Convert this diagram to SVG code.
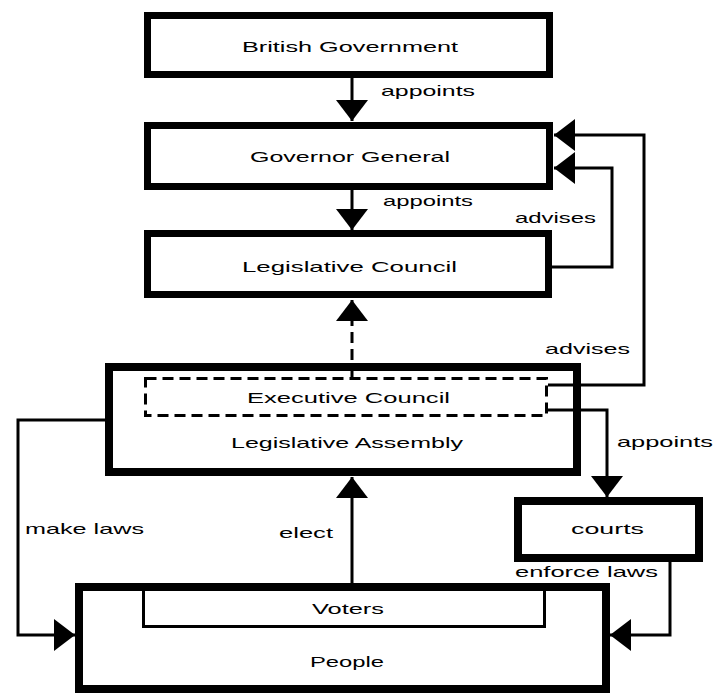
<svg xmlns="http://www.w3.org/2000/svg" width="715" height="695" viewBox="0 0 715 695">
<defs>
<marker id="ah" markerUnits="userSpaceOnUse" markerWidth="22" markerHeight="34" viewBox="0 0 22 34" refX="21" refY="17" orient="auto">
<polygon points="0,1 21,17 0,33" fill="#000"/>
</marker>
<style>
.box{fill:#fff;stroke:#000;stroke-width:7}
.thin{fill:none;stroke:#000;stroke-width:3}
.dash{fill:none;stroke:#000;stroke-width:3;stroke-dasharray:11 6}
.con{fill:none;stroke:#000;stroke-width:3;marker-end:url(#ah)}
text{font-family:"Liberation Sans",Arial,sans-serif;font-size:15px;fill:#000}
.lbl{text-anchor:start}
</style>
</defs>
<rect width="715" height="695" fill="#fff"/>
<g id="british-government">
<rect class="box" x="147.5" y="15.5" width="402" height="59"/>
<text class="lbl" x="242" y="52" textLength="216" lengthAdjust="spacingAndGlyphs">British Government</text>
</g>
<g id="governor-general">
<rect class="box" x="147.5" y="125.5" width="402" height="61"/>
<text class="lbl" x="250" y="162" textLength="200" lengthAdjust="spacingAndGlyphs">Governor General</text>
</g>
<g id="legislative-council">
<rect class="box" x="147.5" y="233.5" width="401" height="61"/>
<text class="lbl" x="242" y="272" textLength="215" lengthAdjust="spacingAndGlyphs">Legislative Council</text>
</g>
<g id="legislative-assembly">
<rect class="box" x="109" y="367" width="468" height="105" style="stroke-width:8"/>
<text class="lbl" x="231" y="448" textLength="232" lengthAdjust="spacingAndGlyphs">Legislative Assembly</text>
</g>
<g id="executive-council">
<rect class="dash" x="145.5" y="378.5" width="401" height="37"/>
<text class="lbl" x="247" y="403" textLength="203" lengthAdjust="spacingAndGlyphs">Executive Council</text>
</g>
<g id="courts">
<rect class="box" x="518" y="501" width="181" height="57" style="stroke-width:8"/>
<text class="lbl" x="571" y="534" textLength="73" lengthAdjust="spacingAndGlyphs">courts</text>
</g>
<g id="people">
<rect class="box" x="79" y="587" width="527" height="102" style="stroke-width:8"/>
<text class="lbl" x="310" y="667" textLength="74" lengthAdjust="spacingAndGlyphs">People</text>
</g>
<g id="voters">
<path class="thin" d="M143.5 591 V626.5 H544.5 V591"/>
<text class="lbl" x="312" y="614" textLength="72" lengthAdjust="spacingAndGlyphs">Voters</text>
</g>
<g id="connectors">
<path class="con" d="M352 78 V121"/>
<path class="con" d="M352 190 V230"/>
<path class="dash" d="M352 377 V318"/>
<path class="con" d="M352 318 V300"/>
<path class="con" d="M548 385 H644 V135 H554"/>
<path class="con" d="M552 267 H612 V168 H554"/>
<path class="con" d="M548 410 H607 V497"/>
<path class="con" d="M352 583 V477"/>
<path class="con" d="M105 420 H18 V635 H75"/>
<path class="con" d="M670 562 V635 H610"/>
<text class="lbl" x="381" y="96" textLength="94" lengthAdjust="spacingAndGlyphs">appoints</text>
<text class="lbl" x="383" y="206" textLength="90" lengthAdjust="spacingAndGlyphs">appoints</text>
<text class="lbl" x="515" y="223" textLength="81" lengthAdjust="spacingAndGlyphs">advises</text>
<text class="lbl" x="545" y="354" textLength="85" lengthAdjust="spacingAndGlyphs">advises</text>
<text class="lbl" x="617" y="447" textLength="96" lengthAdjust="spacingAndGlyphs">appoints</text>
<text class="lbl" x="25" y="534" textLength="119" lengthAdjust="spacingAndGlyphs">make laws</text>
<text class="lbl" x="279" y="538" textLength="54" lengthAdjust="spacingAndGlyphs">elect</text>
<text class="lbl" x="515" y="577" textLength="143" lengthAdjust="spacingAndGlyphs">enforce laws</text>
</g>
</svg>
